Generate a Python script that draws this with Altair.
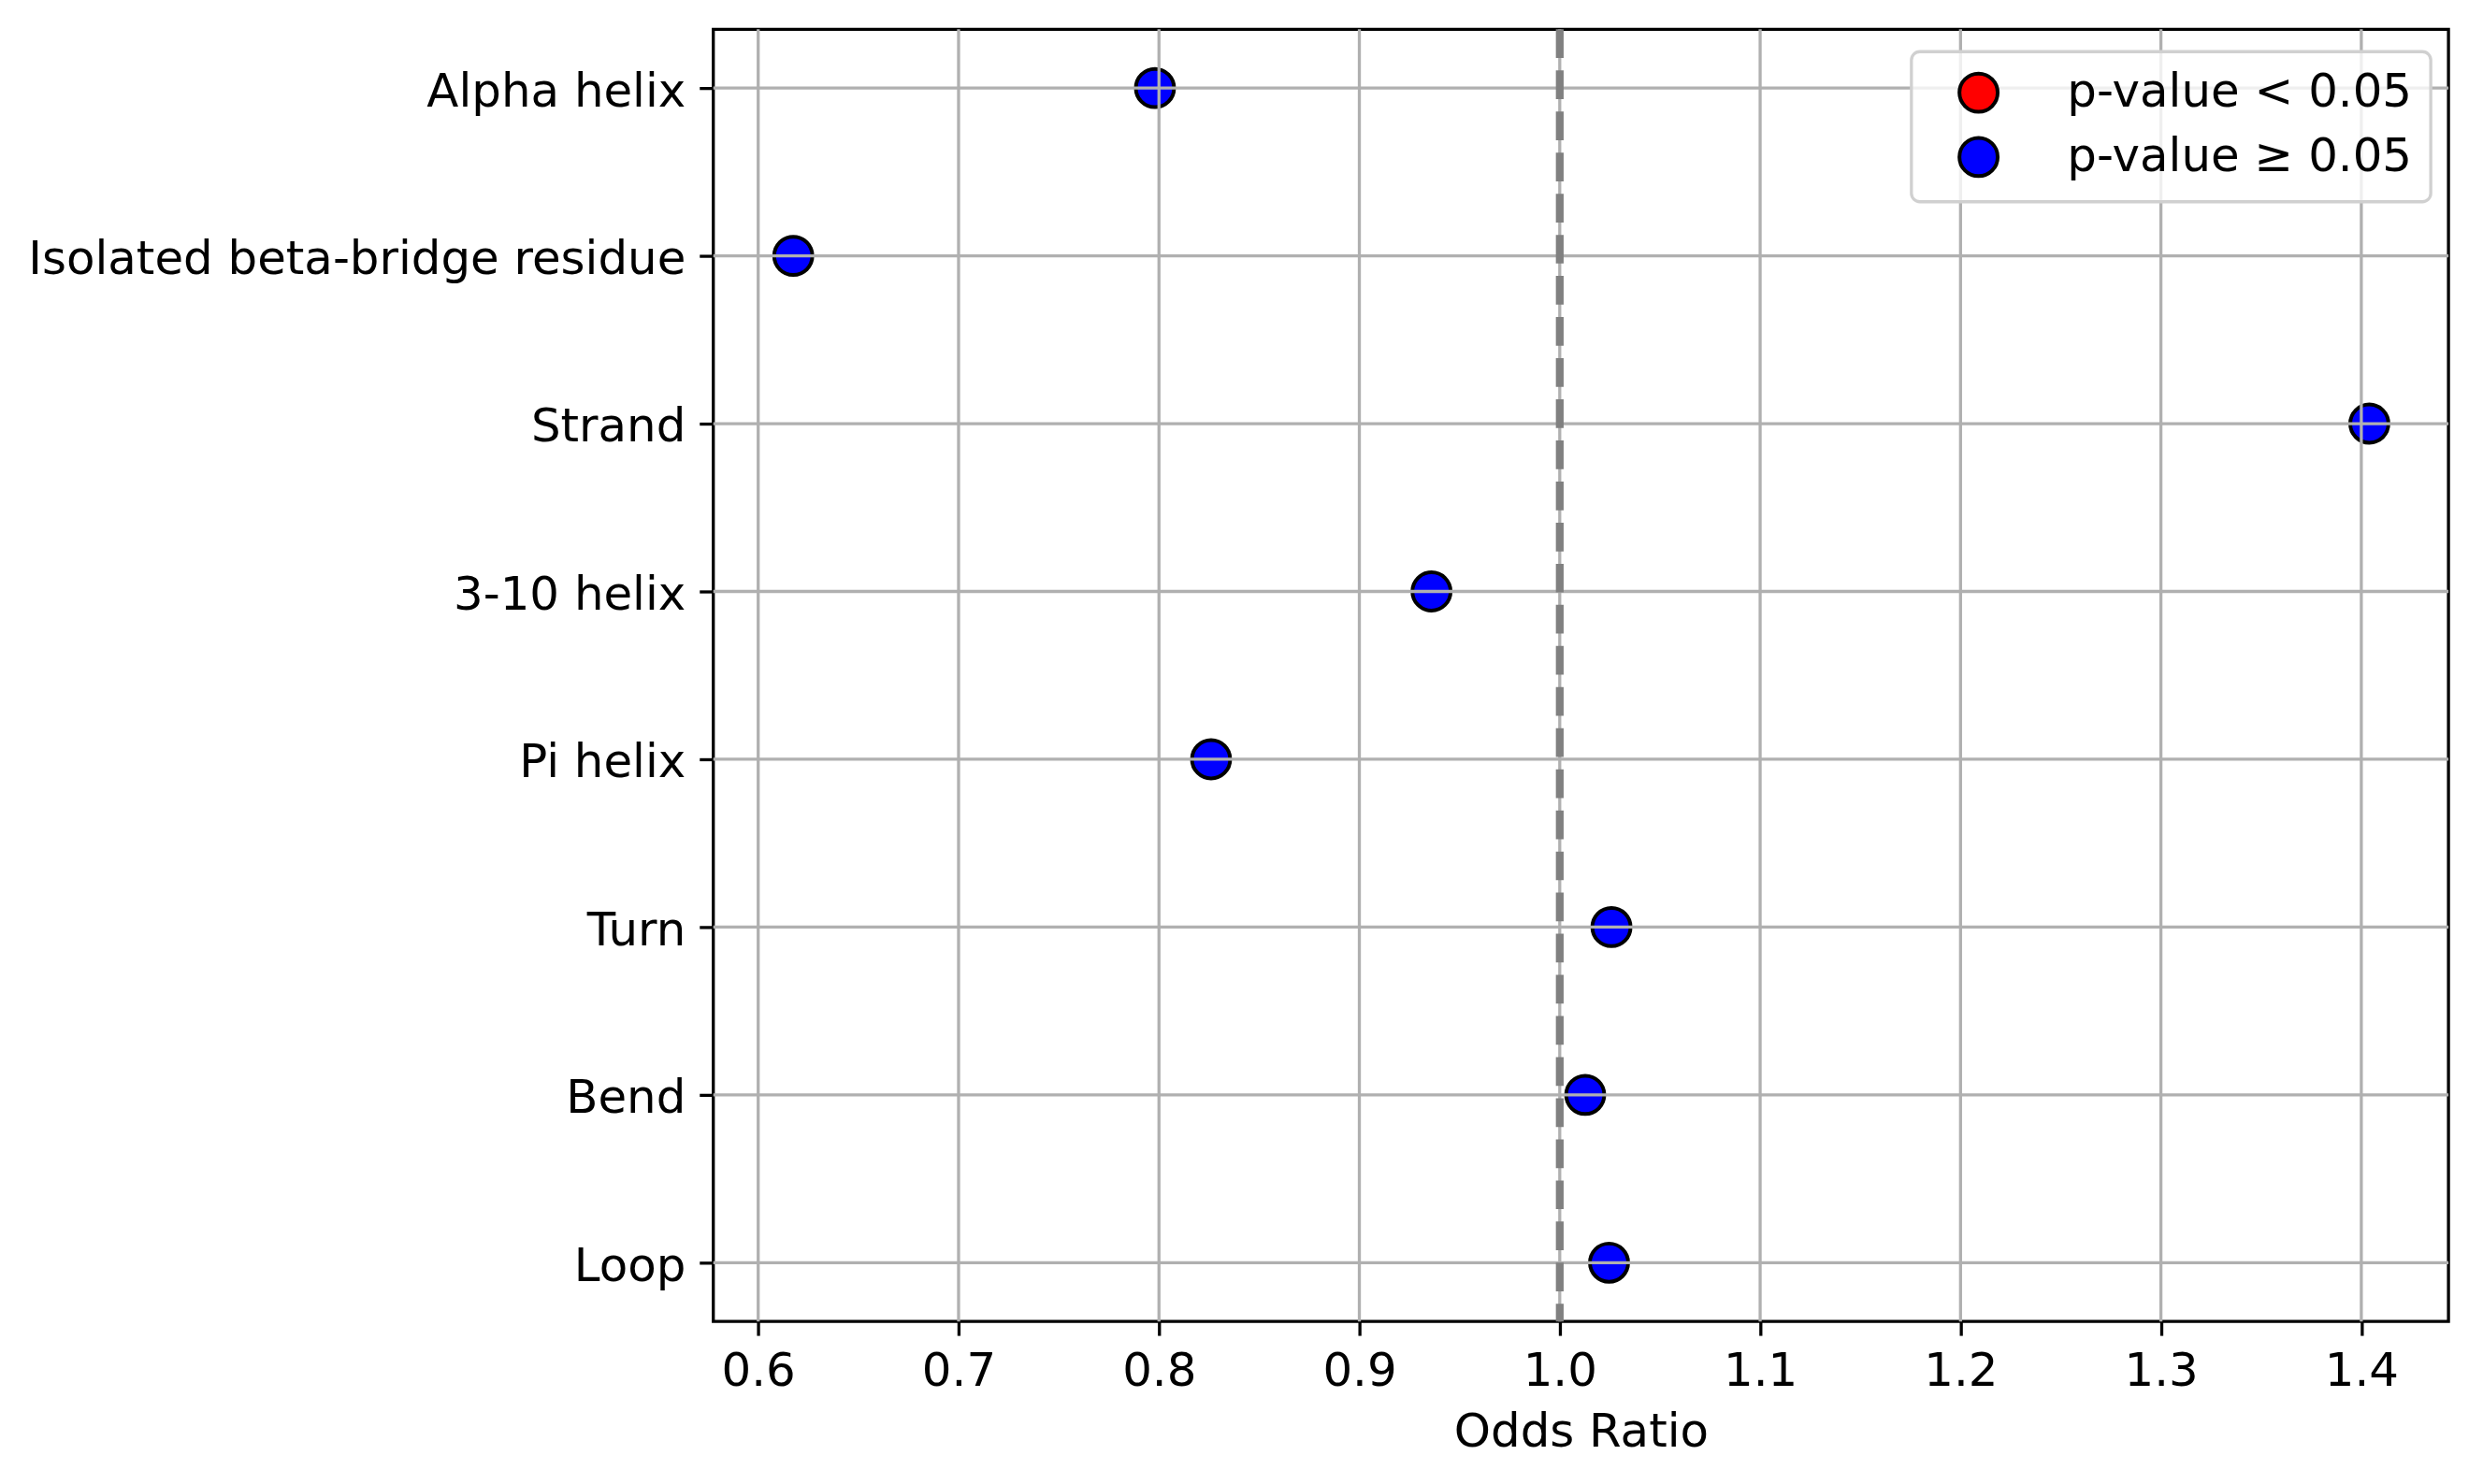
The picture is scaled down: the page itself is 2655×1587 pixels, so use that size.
import altair as alt
import pandas as pd

categories = ["Alpha helix", "Isolated beta-bridge residue", "Strand", "3-10 helix",
              "Pi helix", "Turn", "Bend", "Loop"]
odds_ratio = [0.798, 0.6175, 1.404, 0.936, 0.826, 1.0258, 1.0127, 1.0246]
significance = ["p-value ≥ 0.05"] * 8
legend_labels = ["p-value < 0.05", "p-value ≥ 0.05"]
legend_colors = ["#ff0000", "#0000ff"]
x_ticks = [0.6, 0.7, 0.8, 0.9, 1.0, 1.1, 1.2, 1.3, 1.4]
x_domain = [0.5776, 1.4435]
ref_value = [1.0]

W, H = 1861, 1386
FONT = "DejaVu Sans"

df = pd.DataFrame({"cat": categories, "odds": odds_ratio, "sig": significance})
df_ticks = pd.DataFrame({"odds": x_ticks})
df_cats = pd.DataFrame({"cat": categories})
df_ref = pd.DataFrame({"odds": ref_value})

xs = alt.Scale(domain=x_domain, nice=False, zero=False)
ys = alt.Scale(type="point", domain=categories, padding=0.35)

x_axis = alt.Axis(values=x_ticks, format=".1f")

def X():
    return alt.X("odds:Q", scale=xs, title="Odds Ratio", axis=x_axis)

def Y():
    return alt.Y("cat:N", scale=ys, title=None, sort=categories)

points = alt.Chart(df).mark_point(
    filled=True, shape="circle", size=1681, stroke="black", strokeWidth=4, opacity=1
).encode(
    x=X(),
    y=Y(),
    fill=alt.Fill(
        "sig:N",
        scale=alt.Scale(domain=legend_labels, range=legend_colors),
        legend=alt.Legend(
            title=None, orient="none", legendX=1285, legendY=24,
            fillColor="rgba(255,255,255,0.8)", strokeColor="#d0d0d0",
            padding=19, cornerRadius=9, symbolSize=1681, symbolType="circle",
            symbolStrokeColor="black", symbolStrokeWidth=4, symbolOffset=28,
            labelFontSize=50, labelFont=FONT, labelColor="black", labelLimit=2000,
            labelOffset=70, rowPadding=11,
        ),
    ),
)

vgrid = alt.Chart(df_ticks).mark_rule(color="#b0b0b0", strokeWidth=3.3).encode(x=X())
hgrid = alt.Chart(df_cats).mark_rule(color="#b0b0b0", strokeWidth=3.3).encode(y=Y())
ref = alt.Chart(df_ref).mark_rule(
    color="#808080", strokeWidth=8.3, strokeDash=[30.8, 13.3]
).encode(x=X())

chart = alt.layer(points, vgrid, hgrid, ref).properties(
    width=W, height=H,
    autosize=alt.AutoSizeParams(type="none"),
    padding={"left": 757, "top": 21, "right": 29, "bottom": 172},
).configure_view(
    stroke="black", strokeWidth=3.3
).configure_axis(
    grid=False, domain=False, tickColor="black", tickWidth=3.3, tickSize=15,
    labelFont=FONT, labelFontSize=50, labelColor="black",
    titleFont=FONT, titleFontSize=50, titleFontWeight="normal", titleColor="black",
).configure_axisX(
    labelPadding=13.5, titlePadding=15,
).configure_axisY(
    labelPadding=15, labelBaseline="alphabetic", labelOffset=19, labelLimit=2000,
).configure_legend(
    strokeWidth=3.3
)

chart.save("out.html", embed_options={"renderer": "svg", "actions": False})
